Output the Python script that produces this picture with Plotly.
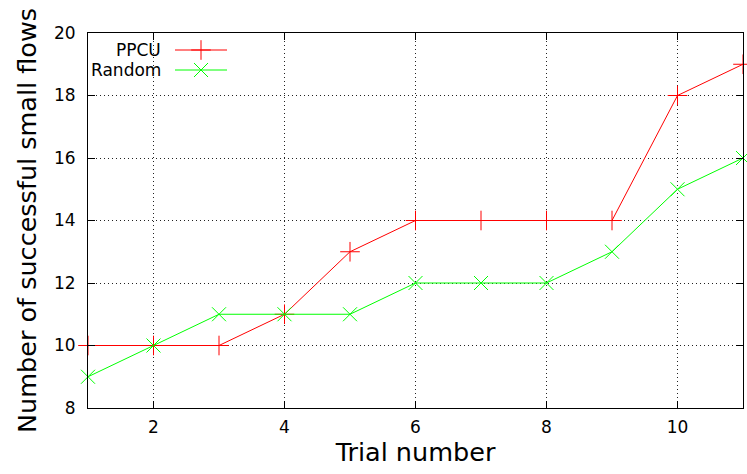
import plotly.graph_objects as go

trials = [1, 2, 3, 4, 5, 6, 7, 8, 9, 10, 11]
ppcu = [10, 10, 10, 11, 13, 14, 14, 14, 14, 18, 19]
random_ = [9, 10, 11, 11, 11, 12, 12, 12, 13, 15, 16]
x_ticks = [2, 4, 6, 8, 10]
y_ticks = [8, 10, 12, 14, 16, 18, 20]

RED = "#ff0000"
GREEN = "#00ff00"
FONT = "DejaVu Sans"

fig = go.Figure()
fig.add_trace(go.Scatter(x=trials, y=ppcu, mode="lines+markers", name="PPCU",
                         line=dict(color=RED, width=1),
                         marker=dict(symbol="cross-thin", size=14, line=dict(color=RED, width=1)),
                         showlegend=False, cliponaxis=False))
fig.add_trace(go.Scatter(x=trials, y=random_, mode="lines+markers", name="Random",
                         line=dict(color=GREEN, width=1),
                         marker=dict(symbol="x-thin", size=14, line=dict(color=GREEN, width=1)),
                         showlegend=False, cliponaxis=False))

# legend samples (gnuplot style: text then sample) on an overlay pixel axis
for row, (col, sym) in enumerate([(RED, "cross-thin"), (GREEN, "x-thin")]):
    yy = 17 + 20 * row
    fig.add_trace(go.Scatter(x=[87, 113, 139], y=[yy, yy, yy], mode="lines",
                             line=dict(color=col, width=1), xaxis="x2", yaxis="y2",
                             showlegend=False, hoverinfo="skip"))
    fig.add_trace(go.Scatter(x=[113], y=[yy], mode="markers", xaxis="x2", yaxis="y2",
                             marker=dict(symbol=sym, size=14, line=dict(color=col, width=1)),
                             showlegend=False, hoverinfo="skip"))

for txt, yp in [("PPCU", 0.9547), ("Random", 0.9013)]:
    fig.add_annotation(text=txt, x=0.1145, y=yp, xref="paper", yref="paper",
                       xanchor="right", yanchor="middle", showarrow=False,
                       font=dict(family=FONT, size=17, color="black"))

axis_common = dict(showline=True, linecolor="black", linewidth=1, mirror="ticks",
                   ticks="inside", ticklen=7, tickcolor="black", tickwidth=1,
                   showgrid=True, gridcolor="#222222", griddash="1px,3px", gridwidth=1,
                   zeroline=False, automargin=False,
                   tickfont=dict(family=FONT, size=17, color="black"))

fig.update_layout(
    width=747, height=474,
    margin=dict(l=88, r=4, t=33, b=66),
    paper_bgcolor="white", plot_bgcolor="white",
    xaxis=dict(range=[1, 11], tickvals=x_ticks, ticktext=[str(v) for v in x_ticks],
               ticklabelstandoff=4,
               title=dict(text="Trial number", font=dict(family=FONT, size=25.5, color="black"), standoff=6),
               **axis_common),
    yaxis=dict(range=[8, 20], tickvals=y_ticks, ticktext=[str(v) for v in y_ticks],
               ticklabelstandoff=8,
               title=dict(text="Number of successful small flows", font=dict(family=FONT, size=25.5, color="black"), standoff=10),
               **axis_common),
    xaxis2=dict(overlaying="x", range=[0, 655], visible=False, fixedrange=True),
    yaxis2=dict(overlaying="y", range=[375, 0], visible=False, fixedrange=True),
)

fig.write_html("out.html", config={"displayModeBar": False},
               post_script="document.body.style.margin='0';")
